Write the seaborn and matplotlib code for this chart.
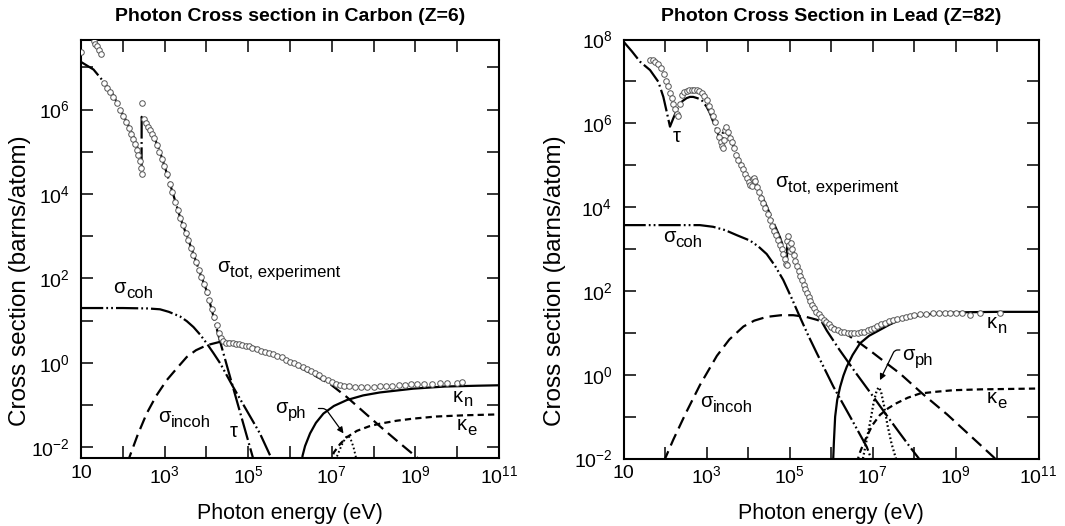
import numpy as np
import pandas as pd
import matplotlib
matplotlib.use("Agg")
import matplotlib.pyplot as plt
from matplotlib.ticker import FixedLocator, FuncFormatter, NullLocator
import seaborn as sns

# All values are log10(E / eV) and log10(sigma / barn)

# ---------------- Carbon (Z=6) ----------------
c_exp_logE = [1.00, 1.30, 1.34, 1.38, 1.43, 1.48,
              1.55, 1.62, 1.70, 1.77, 1.85, 1.93, 2.01, 2.08, 2.14, 2.20, 2.25, 2.29, 2.33, 2.37, 2.41, 2.44, 2.45, 2.45,
              2.50, 2.55, 2.60, 2.65, 2.70, 2.75, 2.81, 2.87, 2.93, 2.99, 3.05, 3.12, 3.18, 3.25, 3.31, 3.37, 3.43,
              3.50, 3.56, 3.63, 3.69, 3.75, 3.82, 3.88, 3.95, 4.01, 4.07, 4.13, 4.19, 4.25, 4.30, 4.35, 4.40,
              4.47, 4.55, 4.63, 4.70, 4.78, 4.86, 4.94, 5.02, 5.10, 5.20, 5.30, 5.40, 5.50, 5.60, 5.70, 5.80,
              5.90, 6.00, 6.10, 6.20, 6.30, 6.40, 6.50, 6.60, 6.70, 6.80, 6.90, 7.00, 7.10, 7.20, 7.30, 7.40,
              7.55, 7.70, 7.85, 8.00, 8.15, 8.30, 8.45, 8.60, 8.75, 8.90, 9.05, 9.20, 9.40, 9.60, 9.75, 10.00, 10.12]
c_exp_logS = [7.37, 7.63, 7.56, 7.50, 7.42, 7.33,
              6.62, 6.52, 6.41, 6.30, 6.15, 6.00, 5.85, 5.70, 5.56, 5.42, 5.30, 5.18, 5.05, 4.92, 4.78, 4.62, 4.47, 6.15,
              5.78, 5.68, 5.60, 5.52, 5.42, 5.32, 5.16, 5.00, 4.84, 4.66, 4.47, 4.25, 4.05, 3.82, 3.63, 3.44, 3.27,
              3.08, 2.90, 2.72, 2.56, 2.39, 2.20, 2.03, 1.86, 1.68, 1.48, 1.28, 1.08, 0.89, 0.72, 0.60, 0.52,
              0.48, 0.47, 0.46, 0.45, 0.44, 0.43, 0.41, 0.39, 0.36, 0.33, 0.29, 0.26, 0.23, 0.20, 0.17, 0.13,
              0.08, 0.03, -0.01, -0.05, -0.10, -0.14, -0.19, -0.24, -0.29, -0.35, -0.40, -0.45, -0.49, -0.52, -0.54, -0.55,
              -0.56, -0.56, -0.56, -0.56, -0.55, -0.55, -0.54, -0.53, -0.52, -0.51, -0.51, -0.50, -0.50, -0.48, -0.48, -0.47, -0.46]

c_tau_logE = [1.00, 1.30, 1.55, 1.77, 1.93, 2.10, 2.25, 2.35, 2.449, 2.451, 2.55, 2.65, 2.73, 2.89, 3.05,
              3.21, 3.37, 3.53, 3.69, 3.85, 4.01, 4.17, 4.33, 4.50, 4.70, 4.90, 5.12, 5.20]
c_tau_logS = [7.13, 6.95, 6.65, 6.35, 6.02, 5.70, 5.38, 5.10, 4.62, 5.83, 5.65, 5.52, 5.40, 5.00, 4.50,
              3.98, 3.45, 3.02, 2.58, 2.12, 1.70, 1.10, 0.50, -0.10, -0.80, -1.50, -2.27, -2.55]

c_coh_logE = [1.00, 2.00, 2.60, 2.89, 3.10, 3.37, 3.53, 3.69, 3.85, 4.01, 4.17, 4.33, 4.64, 4.96, 5.28, 5.56, 5.62]
c_coh_logS = [1.30, 1.30, 1.29, 1.27, 1.21, 1.10, 0.99, 0.85, 0.67, 0.46, 0.23, -0.01, -0.57, -1.12, -1.67, -2.27, -2.40]

c_incoh_logE = [2.10, 2.13, 2.35, 2.57, 2.80, 3.05, 3.30, 3.53, 3.75, 4.01, 4.33, 4.60, 5.00, 5.40, 5.76,
                6.20, 6.50, 6.96, 7.36, 7.75, 8.15, 8.60, 9.11, 9.20]
c_incoh_logS = [-2.40, -2.31, -1.72, -1.20, -0.78, -0.41, -0.12, 0.14, 0.30, 0.42, 0.50, 0.50, 0.42, 0.28, 0.14,
                -0.08, -0.25, -0.50, -0.81, -1.15, -1.50, -1.88, -2.30, -2.40]

c_kn_logE = [6.28, 6.30, 6.36, 6.48, 6.62, 6.80, 7.05, 7.36, 7.75, 8.15, 8.95, 9.70, 10.50, 11.00]
c_kn_logS = [-2.40, -2.20, -1.97, -1.67, -1.42, -1.20, -1.02, -0.88, -0.77, -0.70, -0.61, -0.56, -0.54, -0.53]

c_ke_logE = [6.96, 7.05, 7.20, 7.36, 7.60, 7.90, 8.15, 8.55, 8.95, 9.50, 10.20, 11.00]
c_ke_logS = [-2.40, -2.12, -1.92, -1.76, -1.61, -1.50, -1.44, -1.37, -1.32, -1.27, -1.24, -1.22]

c_ph_logE = [7.05, 7.15, 7.25, 7.34, 7.39, 7.45, 7.52, 7.58, 7.62]
c_ph_logS = [-2.40, -2.15, -1.92, -1.76, -1.72, -1.80, -2.00, -2.25, -2.40]

# ---------------- Lead (Z=82) ----------------
p_exp_logE = [1.64, 1.70, 1.76, 1.82, 1.90, 1.97, 2.03, 2.08, 2.12, 2.16, 2.20, 2.24, 2.28, 2.32, 2.36, 2.40,
              2.46, 2.52, 2.58, 2.64, 2.70, 2.76, 2.82, 2.88, 2.94, 3.00, 3.05, 3.10, 3.15, 3.20, 3.25, 3.30,
              3.35, 3.38, 3.40, 3.42, 3.45, 3.48, 3.52, 3.57, 3.62, 3.67, 3.72, 3.77, 3.82, 3.87, 3.92, 3.97,
              4.02, 4.06, 4.09, 4.12, 4.15, 4.18, 4.22, 4.27, 4.32, 4.37, 4.42, 4.47, 4.52, 4.57, 4.62, 4.67,
              4.72, 4.77, 4.81, 4.85, 4.88, 4.91, 4.93, 4.95, 4.97, 4.99, 5.01, 5.03, 5.06, 5.10, 5.14, 5.18,
              5.22, 5.26, 5.30, 5.34, 5.38, 5.42, 5.46, 5.50, 5.55, 5.60, 5.65, 5.70, 5.76, 5.82, 5.88, 5.94,
              6.00, 6.08, 6.16, 6.24, 6.32, 6.40, 6.48, 6.56, 6.64, 6.72, 6.80, 6.88, 6.96, 7.04, 7.12, 7.20,
              7.30, 7.40, 7.50, 7.60, 7.70, 7.80, 7.90, 8.00, 8.14, 8.30, 8.46, 8.60, 8.75, 8.87, 9.00, 9.15,
              9.35, 9.60, 10.07]
p_exp_logS = [7.52, 7.50, 7.46, 7.42, 7.32, 7.18, 7.00, 6.88, 6.72, 6.60, 6.45, 6.33, 6.22, 6.18, 6.45, 6.68,
              6.75, 6.78, 6.80, 6.80, 6.80, 6.79, 6.76, 6.72, 6.66, 6.55, 6.42, 6.30, 6.17, 6.02, 5.85, 5.68,
              5.55, 5.45, 5.40, 5.60, 5.85, 5.90, 5.80, 5.66, 5.55, 5.40, 5.25, 5.12, 5.00, 4.92, 4.80, 4.70,
              4.60, 4.53, 4.50, 4.66, 4.70, 4.62, 4.48, 4.36, 4.22, 4.10, 3.97, 3.84, 3.70, 3.56, 3.44, 3.33,
              3.22, 3.10, 3.00, 2.88, 2.75, 2.65, 2.62, 3.20, 3.30, 3.10, 2.95, 3.15, 3.00, 2.85, 2.72, 2.60,
              2.48, 2.36, 2.25, 2.14, 2.04, 1.94, 1.85, 1.76, 1.67, 1.58, 1.50, 1.44, 1.37, 1.31, 1.25, 1.20,
              1.15, 1.10, 1.06, 1.03, 1.01, 1.00, 0.99, 0.99, 1.00, 1.01, 1.03, 1.06, 1.09, 1.12, 1.16, 1.20,
              1.24, 1.28, 1.31, 1.34, 1.36, 1.38, 1.40, 1.42, 1.44, 1.46, 1.47, 1.47, 1.47, 1.48, 1.48, 1.47,
              1.42, 1.48, 1.48]

p_tau_logE = [1.00, 1.20, 1.40, 1.64, 1.84, 1.96, 2.04, 2.12, 2.16, 2.20, 2.32, 2.42, 2.52, 2.60, 2.68, 2.78,
              2.88, 3.00, 3.08, 3.16, 3.25, 3.33, 3.39, 3.395, 3.45, 3.52, 3.60, 3.70, 3.81, 3.97, 4.10, 4.105,
              4.17, 4.29, 4.45, 4.61, 4.77, 4.86, 4.94, 4.945, 5.00, 5.17, 5.33, 5.49, 5.66, 5.90, 6.20, 6.60,
              7.00, 7.40, 7.66, 7.90, 8.14, 8.20]
p_tau_logS = [7.95, 7.72, 7.47, 7.27, 6.99, 6.63, 6.28, 5.92, 6.02, 6.12, 6.40, 6.53, 6.60, 6.63, 6.63, 6.60,
              6.56, 6.40, 6.25, 6.04, 5.82, 5.62, 5.47, 5.80, 5.85, 5.75, 5.58, 5.33, 5.08, 4.74, 4.48, 4.70,
              4.62, 4.35, 4.02, 3.64, 3.28, 3.02, 2.75, 3.32, 3.20, 2.72, 2.25, 1.85, 1.47, 1.05, 0.60, 0.04,
              -0.50, -1.05, -1.40, -1.72, -2.03, -2.10]

p_coh_logE = [1.00, 2.00, 2.84, 3.16, 3.45, 3.73, 4.05, 4.25, 4.45, 4.65, 4.85, 5.05, 5.25, 5.45, 5.66,
              6.06, 6.46, 6.86, 6.98, 7.05]
p_coh_logS = [3.57, 3.57, 3.57, 3.53, 3.45, 3.33, 3.20, 3.06, 2.88, 2.60, 2.26, 1.83, 1.38, 0.94, 0.51,
              -0.29, -1.00, -1.72, -2.04, -2.20]

p_incoh_logE = [1.96, 2.20, 2.50, 2.84, 3.25, 3.55, 3.89, 4.15, 4.45, 4.80, 5.09, 5.40, 5.66, 5.95, 6.22,
                6.70, 7.00, 7.34, 7.66, 8.20, 8.80, 9.35, 9.91, 10.00]
p_incoh_logS = [-2.10, -1.55, -0.92, -0.25, 0.45, 0.84, 1.15, 1.29, 1.38, 1.42, 1.42, 1.38, 1.31, 1.20, 1.07,
                0.75, 0.53, 0.27, 0.03, -0.45, -0.95, -1.45, -1.96, -2.05]

p_kn_logE = [6.05, 6.07, 6.10, 6.15, 6.22, 6.30, 6.38, 6.52, 6.70, 6.92, 7.18, 7.40, 7.66, 8.14, 8.60, 9.20,
             10.00, 11.00]
p_kn_logS = [-2.10, -1.60, -1.00, -0.60, -0.29, -0.02, 0.19, 0.47, 0.75, 0.93, 1.07, 1.19, 1.31, 1.42, 1.47, 1.49,
             1.50, 1.50]

p_ke_logE = [6.62, 6.70, 6.78, 6.86, 7.00, 7.18, 7.38, 7.58, 7.85, 8.14, 8.50, 8.95, 9.60, 10.30, 11.00]
p_ke_logS = [-2.10, -1.85, -1.65, -1.48, -1.20, -0.96, -0.80, -0.68, -0.55, -0.45, -0.41, -0.37, -0.35, -0.34, -0.33]

p_ph_logE = [6.75, 6.85, 6.95, 7.03, 7.10, 7.15, 7.20, 7.28, 7.36, 7.46, 7.58, 7.60]
p_ph_logS = [-2.10, -1.60, -1.10, -0.65, -0.38, -0.30, -0.38, -0.75, -1.20, -1.65, -2.05, -2.10]

# ---------------- styling ----------------
sns.set_theme(style="ticks")
plt.rcParams.update({
    "font.family": ["Liberation Sans", "DejaVu Sans"],
    "mathtext.fontset": "custom",
    "mathtext.rm": "Liberation Sans",
    "mathtext.it": "Liberation Sans:italic",
    "mathtext.bf": "Liberation Sans:bold",
    "lines.scale_dashes": False,
    "axes.linewidth": 1.5,
    "axes.edgecolor": "black",
    "text.color": "black",
    "axes.labelcolor": "black",
    "xtick.color": "black",
    "ytick.color": "black",
})

DASH_TAU = (16, 2.5, 1.3, 2.5)
DASH_COH = (16, 2.2, 1.3, 2.2, 1.3, 2.2)
DASH_INCOH = (9, 4.5)
DASH_KE = (4.5, 3)
DASH_PH = (1.2, 1.8)


def curve(ax, logE, logS, dashes=None, lw=1.6):
    df = pd.DataFrame({"E": np.power(10.0, logE), "S": np.power(10.0, logS)})
    sns.lineplot(data=df, x="E", y="S", ax=ax, color="black", linewidth=lw,
                 estimator=None, sort=False, legend=False)
    line = ax.lines[-1]
    line.set_zorder(3)
    if dashes is not None:
        line.set_dashes(dashes)
    line.set_dash_capstyle("butt")


def points(ax, logE, logS):
    df = pd.DataFrame({"E": np.power(10.0, logE), "S": np.power(10.0, logS)})
    sns.scatterplot(data=df, x="E", y="S", ax=ax, marker="o", s=16, color="white",
                    edgecolor="#555555", linewidth=0.7, zorder=4, legend=False)


def label(ax, logx, logy, sym, sub=None, size=14.5, subsize=12):
    t = ax.text(10 ** logx, 10 ** logy, sym, fontsize=size, ha="left", va="baseline", zorder=6)
    if sub:
        ax.annotate(sub, xy=(1, 0), xycoords=t, xytext=(0.3, -0.5), textcoords="offset points",
                    fontsize=subsize, ha="left", va="baseline", zorder=6)


def fmt_x(v, pos):
    e = int(round(np.log10(v)))
    if e % 2 == 0:
        return ""
    return "10" if e == 1 else r"$\mathregular{10^{%d}}$" % e


def fmt_y(v, pos):
    e = int(round(np.log10(v)))
    if e % 2:
        return ""
    return r"$\mathregular{10^{%d}}$" % e


def frame(ax, ylo, yhi, title, ylab_x):
    ax.set_xscale("log")
    ax.set_yscale("log")
    ax.set_xlim(10, 1e11)
    ax.set_ylim(10 ** ylo, 10 ** yhi)
    ax.xaxis.set_major_locator(FixedLocator(10.0 ** np.arange(1, 12)))
    ax.xaxis.set_minor_locator(NullLocator())
    ax.yaxis.set_major_locator(FixedLocator(10.0 ** np.arange(int(np.ceil(ylo)), int(np.floor(yhi)) + 1)))
    ax.yaxis.set_minor_locator(NullLocator())
    ax.xaxis.set_major_formatter(FuncFormatter(fmt_x))
    ax.yaxis.set_major_formatter(FuncFormatter(fmt_y))
    ax.tick_params(which="major", direction="in", length=8.5, width=1.1, top=True, right=True,
                   labelsize=14)
    ax.tick_params(axis="x", pad=5)
    ax.tick_params(axis="y", pad=8)
    for s in ax.spines.values():
        s.set_linewidth(1.5)
    ax.set_xlabel("Photon energy (eV)", fontsize=15.5, va="center")
    ax.xaxis.set_label_coords(0.5, -0.131)
    ax.set_ylabel("Cross section (barns/atom)", fontsize=17.5, va="center", ha="center")
    ax.yaxis.set_label_coords(ylab_x, 0.424)
    ax.text(0.5, 1.055, title, transform=ax.transAxes, ha="center", va="center",
            fontsize=14, fontweight="bold")


fig = plt.figure(figsize=(10.65, 5.26), dpi=100)
axC = fig.add_axes([81 / 1065, 1 - 458.3 / 526, 418 / 1065, 418.3 / 526])
axP = fig.add_axes([623.5 / 1065, 1 - 458.5 / 526, 415 / 1065, 419 / 526])

# Carbon panel
frame(axC, -2.26, 7.65, "Photon Cross section in Carbon (Z=6)", -0.147)
curve(axC, c_tau_logE, c_tau_logS, DASH_TAU)
curve(axC, c_coh_logE, c_coh_logS, DASH_COH)
curve(axC, c_incoh_logE, c_incoh_logS, DASH_INCOH)
curve(axC, c_kn_logE, c_kn_logS)
curve(axC, c_ke_logE, c_ke_logS, DASH_KE)
curve(axC, c_ph_logE, c_ph_logS, DASH_PH, lw=1.4)
points(axC, c_exp_logE, c_exp_logS)
label(axC, 4.25, 2.15, "σ", "tot, experiment")
label(axC, 1.77, 1.65, "σ", "coh")
label(axC, 2.84, -1.40, "σ", "incoh")
label(axC, 4.56, -1.76, "τ")
label(axC, 5.64, -1.19, "σ", "ph")
label(axC, 9.90, -0.92, "κ", "n")
label(axC, 9.99, -1.59, "κ", "e")
axC.annotate("", xy=(10 ** 7.28, 10 ** -1.67), xytext=(10 ** 6.68, 10 ** -1.08),
             arrowprops=dict(arrowstyle="-|>", color="black", lw=0.9, mutation_scale=9,
                             shrinkA=0, shrinkB=0,
                             connectionstyle="angle,angleA=0,angleB=126,rad=3"), zorder=6)

# Lead panel
frame(axP, -2.0, 8.0, "Photon Cross Section in Lead (Z=82)", -0.165)
curve(axP, p_tau_logE, p_tau_logS, DASH_TAU)
curve(axP, p_coh_logE, p_coh_logS, DASH_COH)
curve(axP, p_incoh_logE, p_incoh_logS, DASH_INCOH)
curve(axP, p_kn_logE, p_kn_logS)
curve(axP, p_ke_logE, p_ke_logS, DASH_KE)
curve(axP, p_ph_logE, p_ph_logS, DASH_PH, lw=1.6)
points(axP, p_exp_logE, p_exp_logS)
label(axP, 4.65, 4.48, "σ", "tot, experiment")
label(axP, 1.95, 3.17, "σ", "coh")
label(axP, 2.84, -0.77, "σ", "incoh")
label(axP, 2.19, 5.56, "τ")
label(axP, 7.71, 0.35, "σ", "ph")
label(axP, 9.76, 1.11, "κ", "n")
label(axP, 9.76, -0.68, "κ", "e")
axP.annotate("", xy=(10 ** 7.18, 10 ** -0.13), xytext=(10 ** 7.66, 10 ** 0.59),
             arrowprops=dict(arrowstyle="-|>", color="black", lw=0.9, mutation_scale=9,
                             shrinkA=0, shrinkB=0,
                             connectionstyle="angle,angleA=180,angleB=64,rad=3"), zorder=6)

fig.savefig("out.png", dpi=100)
